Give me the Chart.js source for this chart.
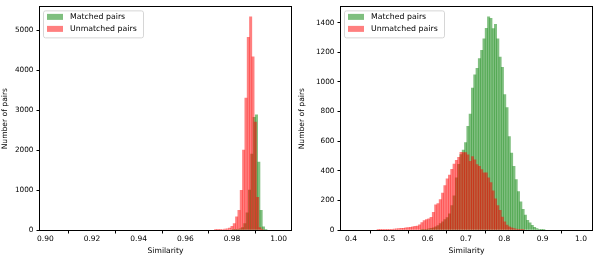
<!DOCTYPE html>
<html>
<head>
<meta charset="utf-8">
<script src="https://cdn.jsdelivr.net/npm/chart.js@4.4.1/dist/chart.umd.min.js"></script>
<style>
  html, body { margin: 0; padding: 0; background: #fff; }
  #wrap { position: relative; width: 594px; height: 256px; }
  .panel { position: absolute; top: 0; }
</style>
</head>
<body>
<div id="wrap">
  <canvas id="leftChart" class="panel" style="left:0" width="297" height="256"></canvas>
  <canvas id="rightChart" class="panel" style="left:297px" width="297" height="256"></canvas>
</div>
<script>
const seriesLabels = ['Matched pairs', 'Unmatched pairs'];

// left panel: histogram counts, bin i is centred at start + i * width
const leftBinWidth = 0.001;
const leftMatchedStart = 0.9805;
const leftMatched = [4, 8, 15, 30, 60, 160, 430, 1000, 1900, 2820, 2880, 1700, 490, 80, 10];
const leftUnmatchedStart = 0.973;
const leftUnmatched = [5, 8, 10, 12, 20, 30, 45, 90, 160, 330, 490, 990, 2000, 3300, 4820, 5335, 4330, 2700, 820, 60, 5];
const leftXTicks = [0.90, 0.92, 0.94, 0.96, 0.98, 1.00];
const leftYTicks = [0, 1000, 2000, 3000, 4000, 5000];

// right panel
const rightBinWidth = 0.006;
const rightMatchedStart = 0.585;
const rightMatched = [2, 3, 5, 8, 11, 15, 22, 30, 44, 55, 71, 84, 110, 165, 231, 353, 443, 509, 540, 590,
  700, 782, 959, 1047, 1091, 1157, 1213, 1290, 1362, 1440, 1429, 1360, 1389, 1290, 1168, 1098, 915, 827, 630, 520,
  430, 340, 260, 190, 140, 100, 65, 48, 32, 18, 10, 5, 3, 1];
const rightUnmatchedStart = 0.471;
const rightUnmatched = [1, 2, 2, 3, 3, 4, 5, 6, 8, 10, 11, 12, 14, 16, 18, 22, 24, 27, 35, 50,
  64, 70, 75, 85, 120, 170, 178, 205, 250, 300, 345, 370, 410, 445, 470, 490, 525, 522, 522, 507,
  463, 496, 474, 441, 430, 408, 386, 386, 353, 320, 265, 210, 165, 132, 88, 55, 33, 22, 15, 10,
  6, 4, 2, 1];
const rightXTicks = [0.4, 0.5, 0.6, 0.7, 0.8, 0.9, 1.0];
const rightYTicks = [0, 200, 400, 600, 800, 1000, 1200, 1400];

const green = 'rgba(0,128,0,0.5)';
const red = 'rgba(255,0,0,0.5)';
const FONT = 'DejaVu Sans';

function points(start, step, counts) {
  return counts.map((c, i) => ({ x: start + i * step, y: c }));
}

// black box round the plot area, like matplotlib spines
const frame = {
  id: 'frame',
  afterDatasetsDraw(chart) {
    const a = chart.chartArea, ctx = chart.ctx;
    ctx.save();
    ctx.strokeStyle = '#000';
    ctx.lineWidth = 1;
    ctx.strokeRect(Math.round(a.left) - 0.5, Math.round(a.top) - 0.5,
      Math.round(a.right - a.left) + 1, Math.round(a.bottom - a.top) + 1);
    ctx.restore();
  }
};

// legend drawn inside the axes, upper left
const innerLegend = {
  id: 'innerLegend',
  afterDraw(chart) {
    const a = chart.chartArea, ctx = chart.ctx;
    const x = a.left + 3, y = a.top + 3, w = 100, h = 27;
    ctx.save();
    ctx.beginPath();
    ctx.roundRect(x + 0.5, y + 0.5, w, h, 2);
    ctx.fillStyle = 'rgba(255,255,255,0.8)';
    ctx.fill();
    ctx.strokeStyle = '#d6d6d6';
    ctx.lineWidth = 1;
    ctx.stroke();
    ctx.font = '7.8px "' + FONT + '"';
    ctx.textBaseline = 'middle';
    const sets = [chart.data.datasets[0], chart.data.datasets[1]];
    sets.forEach((ds, i) => {
      const cy = y + 6.5 + i * 12;
      ctx.fillStyle = ds.backgroundColor;
      ctx.fillRect(x + 4, cy - 3, 16, 6);
      ctx.fillStyle = '#000';
      ctx.fillText(ds.label, x + 27, cy + 0.5);
    });
    ctx.restore();
  }
};

function makeChart(id, c) {
  const tickFont = { family: FONT, size: 7.5 };
  const titleFont = { family: FONT, size: 7.6 };
  const grid = { display: true, drawOnChartArea: false, drawTicks: true, tickLength: 3.5, tickColor: '#000', tickWidth: 1 };
  return new Chart(document.getElementById(id), {
    type: 'bar',
    data: {
      datasets: [
        { label: seriesLabels[0], data: points(c.gStart, c.step, c.g), xAxisID: 'x', backgroundColor: green, order: 2 },
        { label: seriesLabels[1], data: points(c.rStart, c.step, c.r), xAxisID: 'x2', backgroundColor: red, order: 1 }
      ]
    },
    options: {
      responsive: false,
      animation: false,
      devicePixelRatio: 1,
      layout: { padding: { top: 3, right: c.padRight, left: 0, bottom: 0 } },
      datasets: { bar: { barPercentage: 1, categoryPercentage: 1, grouped: false, borderWidth: 0 } },
      plugins: { legend: { display: false }, tooltip: { enabled: false } },
      scales: {
        x: {
          type: 'linear', min: c.xMin, max: c.xMax, offset: false,
          afterBuildTicks: s => { s.ticks = c.xTicks.map(v => ({ value: v })); },
          afterFit: s => { s.height = 26; },
          ticks: { font: tickFont, color: '#000', padding: 1.5, maxRotation: 0,
                   callback: v => v.toFixed(c.xDec) },
          grid: grid,
          border: { display: false },
          title: { display: true, text: 'Similarity', font: titleFont, color: '#000', padding: { top: 0, bottom: 0.5 } }
        },
        x2: { type: 'linear', display: false, min: c.xMin, max: c.xMax, offset: false },
        y: {
          min: 0, max: c.yMax,
          afterBuildTicks: s => { s.ticks = c.yTicks.map(v => ({ value: v })); },
          afterFit: s => { s.width = c.yWidth; },
          ticks: { font: { family: FONT, size: 7.3 }, color: '#000', padding: 3,
                   callback: v => String(v) },
          grid: grid,
          border: { display: false },
          title: { display: true, text: 'Number of pairs', font: titleFont, color: '#000', padding: { top: 0, bottom: 0 } }
        }
      }
    },
    plugins: [frame, innerLegend]
  });
}

makeChart('leftChart', {
  gStart: leftMatchedStart, rStart: leftUnmatchedStart, step: leftBinWidth,
  g: leftMatched, r: leftUnmatched,
  xMin: 0.8977, xMax: 1.0053, xTicks: leftXTicks, xDec: 2,
  yMax: 5570, yTicks: leftYTicks, yWidth: 40, padRight: 6
});

makeChart('rightChart', {
  gStart: rightMatchedStart, rStart: rightUnmatchedStart, step: rightBinWidth,
  g: rightMatched, r: rightUnmatched,
  xMin: 0.374, xMax: 1.0287, xTicks: rightXTicks, xDec: 1,
  yMax: 1503, yTicks: rightYTicks, yWidth: 44, padRight: 2
});
</script>
</body>
</html>
